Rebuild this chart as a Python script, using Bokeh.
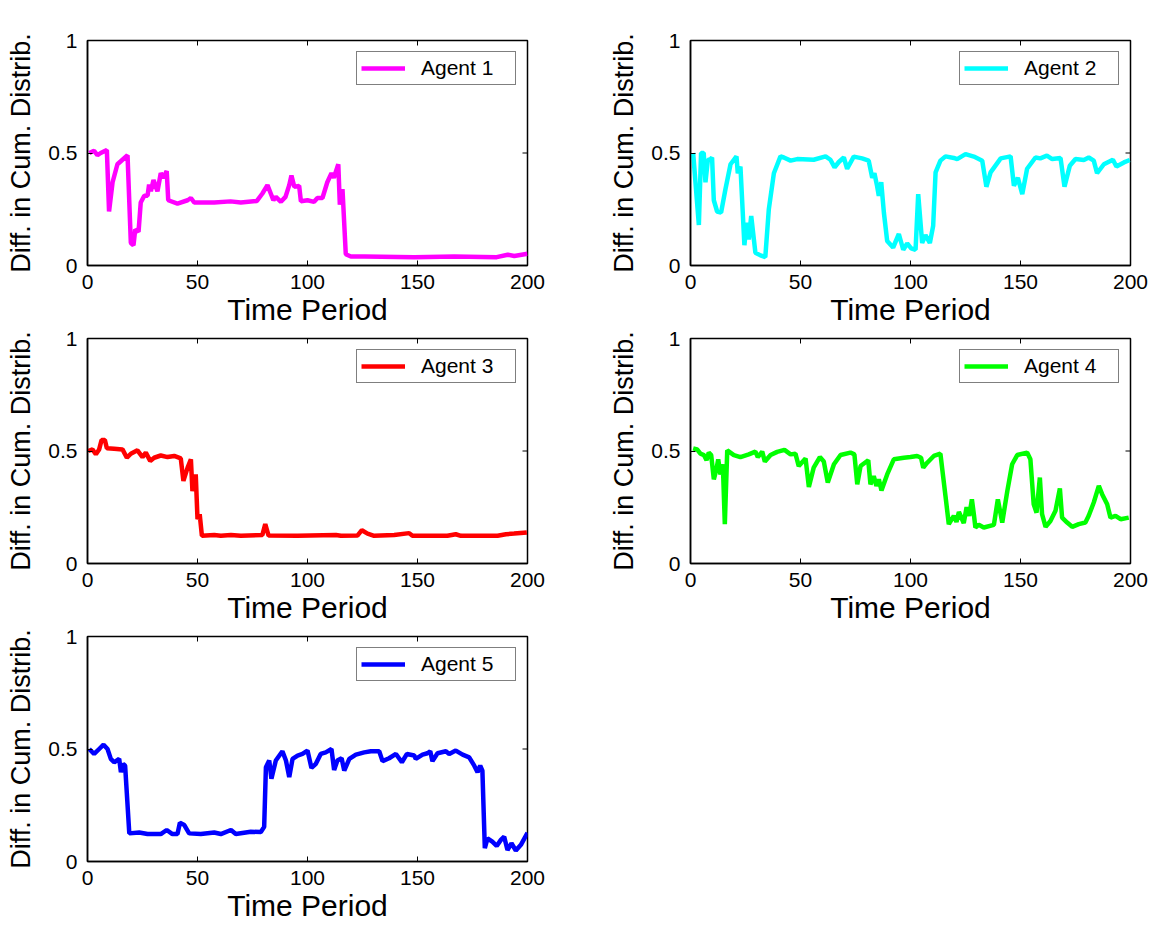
import math
from bokeh.plotting import figure
from bokeh.layouts import gridplot
from bokeh.models import Range1d, FixedTicker
from bokeh.embed import file_html
from bokeh.resources import INLINE

x_ticks = [0, 50, 100, 150, 200]
x_tick_labels = ["0", "50", "100", "150", "200"]
y_ticks = [0, 0.5, 1]
y_tick_labels = ["0", "0.5", "1"]
x_label = "Time Period"
y_label = "Diff. in Cum. Distrib."
agent_names = ["Agent 1", "Agent 2", "Agent 3", "Agent 4", "Agent 5"]
agent_colors = ["#ff00ff", "#00ffff", "#ff0000", "#00ff00", "#0000ff"]

agent1_t = [0.8, 3, 4.5, 6, 8.8, 9.8, 11.4, 13.6, 15.9, 18.2, 19.7, 20.9, 21.7, 23.2, 24.2, 25.8,
            27.3, 28, 28.8, 30, 31.8, 33.3, 34.5, 36, 36.7, 40.9, 45.5, 47, 48.5, 57.6, 65, 69.7,
            77, 79.5, 81.8, 83.3, 84.5, 85.6, 87.9, 90, 91.7, 92.7, 94, 96.2, 97, 100, 103, 104.5,
            106.8, 109, 110.9, 112, 114, 114.7, 115.9, 117.4, 119.7, 126, 148.5, 166.7, 186, 191,
            194, 200]
agent1_y = [0.50, 0.51, 0.49, 0.50, 0.513, 0.24, 0.37, 0.45, 0.47, 0.49, 0.10, 0.09, 0.16, 0.15,
            0.28, 0.31, 0.31, 0.36, 0.33, 0.38, 0.33, 0.41, 0.39, 0.42, 0.29, 0.275, 0.29, 0.30,
            0.28, 0.28, 0.285, 0.28, 0.287, 0.32, 0.357, 0.32, 0.29, 0.305, 0.283, 0.305, 0.357,
            0.40, 0.35, 0.354, 0.286, 0.29, 0.283, 0.30, 0.30, 0.37, 0.41, 0.39, 0.45, 0.27, 0.34,
            0.05, 0.04, 0.04, 0.037, 0.04, 0.037, 0.048, 0.042, 0.052]

agent2_t = [1.2, 3.8, 4.8, 6, 6.8, 7.9, 8.8, 9.8, 10.6, 12.1, 13.9, 15.9, 18.2, 20.9, 21.5, 22.7,
            24.5, 25.5, 26.5, 27.6, 29.5, 31.8, 34, 35.6, 37.9, 40.9, 42.4, 45.5, 48.5, 56, 61.4,
            63.6, 65.5, 67.4, 69.7, 71.2, 74.2, 78, 81, 82.6, 83.6, 84.8, 85.6, 86.7, 87.9, 89.4,
            92.1, 94.7, 96.7, 98.5, 100.3, 102.3, 103.5, 105.3, 106.8, 108.8, 110.3, 111.4, 113.6,
            115.9, 119.7, 121.2, 125, 128.8, 132.6, 134.5, 136.4, 141, 145.5, 147, 148.8, 150.8,
            153, 156.8, 159, 162, 164.4, 168.2, 170, 172.4, 175, 178.8, 181, 183.3, 184.8, 187.9,
            192, 193.6, 197, 199.7]
agent2_y = [0.50, 0.18, 0.50, 0.50, 0.37, 0.47, 0.47, 0.48, 0.29, 0.24, 0.235, 0.34, 0.45, 0.485,
            0.41, 0.44, 0.09, 0.19, 0.116, 0.22, 0.057, 0.045, 0.037, 0.25, 0.41, 0.485, 0.48,
            0.466, 0.473, 0.47, 0.485, 0.47, 0.436, 0.46, 0.48, 0.43, 0.484, 0.476, 0.466, 0.39,
            0.41, 0.354, 0.31, 0.37, 0.235, 0.109, 0.08, 0.14, 0.07, 0.098, 0.076, 0.07, 0.317,
            0.10, 0.135, 0.10, 0.176, 0.414, 0.466, 0.485, 0.478, 0.473, 0.495, 0.484, 0.466,
            0.35, 0.414, 0.476, 0.485, 0.354, 0.39, 0.317, 0.43, 0.48, 0.476, 0.488, 0.473, 0.478,
            0.35, 0.443, 0.473, 0.469, 0.48, 0.466, 0.41, 0.45, 0.47, 0.44, 0.458, 0.469]

agent3_t = [0.3, 2.3, 3.8, 5.3, 6.4, 7.9, 8.8, 12.1, 15.9, 17.9, 19.7, 22.7, 25, 26.5, 28.5, 30.3,
            33.3, 36.4, 39.4, 42.4, 43.6, 45.5, 47, 47.7, 49.2, 50, 51, 52, 57.6, 60.6, 65.2, 69.7,
            79.5, 80.8, 82.3, 95.5, 112.9, 115.2, 122.7, 124.7, 127.3, 130.3, 139.4, 146.2, 147.7,
            163.6, 167.4, 169.7, 186.4, 190.2, 193.9, 199.7]
agent3_y = [0.50, 0.507, 0.485, 0.507, 0.549, 0.549, 0.512, 0.51, 0.507, 0.47, 0.488, 0.503, 0.473,
            0.493, 0.456, 0.47, 0.48, 0.473, 0.478, 0.467, 0.367, 0.426, 0.463, 0.322, 0.396,
            0.197, 0.219, 0.123, 0.127, 0.123, 0.127, 0.123, 0.127, 0.175, 0.124, 0.123, 0.127,
            0.123, 0.124, 0.148, 0.133, 0.123, 0.127, 0.135, 0.123, 0.123, 0.13, 0.123, 0.123,
            0.13, 0.133, 0.138]

agent4_t = [1.2, 3, 4.5, 6.1, 7.3, 8.3, 9.4, 10.6, 11.8, 12.6, 13.6, 14.7, 15.6, 16.7, 19.7, 22.7,
            26.5, 29.5, 30.6, 32.6, 33.8, 36.4, 39.4, 42.7, 45.5, 47.7, 49.2, 52.3, 53.8, 56, 58.8,
            60.6, 62.4, 65.2, 68.2, 72.7, 74.5, 75.8, 77.3, 80.8, 81.8, 83.3, 84.5, 85.6, 86.8,
            89.4, 92.4, 97, 100, 103, 104.8, 105.8, 107.6, 110.6, 113.6, 115.9, 117.4, 119.7,
            120.9, 122, 124.2, 125.5, 126.7, 127.9, 128.8, 129.5, 131, 133.3, 137.9, 139.7, 141.7,
            144, 146.2, 148.5, 153, 154.5, 156, 157.3, 158.8, 159.8, 161.4, 163.6, 165.9, 167.9,
            168.9, 171.2, 173.5, 176.5, 179.5, 181, 183.3, 185.6, 187.1, 189.4, 190.9, 193.2,
            195.5, 199.2]
agent4_y = [0.512, 0.507, 0.488, 0.482, 0.459, 0.493, 0.482, 0.374, 0.419, 0.463, 0.396, 0.441,
            0.175, 0.503, 0.482, 0.473, 0.485, 0.497, 0.473, 0.497, 0.453, 0.482, 0.496, 0.505,
            0.485, 0.488, 0.433, 0.467, 0.34, 0.426, 0.473, 0.453, 0.36, 0.441, 0.482, 0.493,
            0.485, 0.352, 0.433, 0.459, 0.352, 0.389, 0.345, 0.374, 0.325, 0.396, 0.463, 0.47,
            0.473, 0.478, 0.47, 0.426, 0.448, 0.478, 0.488, 0.30, 0.175, 0.212, 0.185, 0.229, 0.18,
            0.25, 0.212, 0.285, 0.219, 0.16, 0.172, 0.16, 0.172, 0.285, 0.182, 0.322, 0.441, 0.482,
            0.493, 0.463, 0.263, 0.226, 0.382, 0.219, 0.163, 0.189, 0.234, 0.334, 0.204, 0.182,
            0.163, 0.175, 0.182, 0.212, 0.271, 0.345, 0.308, 0.263, 0.204, 0.212, 0.197, 0.204]

agent5_t = [0.8, 3, 5.3, 7.3, 9.1, 10.6, 12.1, 14.4, 15.2, 16.2, 17.1, 19, 23.5, 27.3, 33.3, 36,
            38.6, 40.9, 42, 44, 46.2, 51.5, 57.6, 60.6, 65.2, 67.4, 74.2, 78.8, 80.3, 81.1, 82.6,
            83.6, 85.6, 88.6, 90.2, 91.7, 93.2, 95.5, 97.7, 100, 101.8, 103.8, 106, 108.3, 110.9,
            112.1, 113.6, 115.5, 116.7, 119, 122, 125.8, 128.8, 132.6, 134.1, 137.1, 140.2, 142.9,
            145.2, 148.5, 149.2, 152.3, 154.5, 155.8, 156.8, 159.1, 162.9, 164.4, 167.4, 170.5,
            173.5, 175.8, 177.3, 178.5, 179.5, 180.6, 181.8, 184, 186, 187.9, 189.4, 190.9, 192.7,
            194.7, 197, 200]
agent5_y = [0.50, 0.478, 0.50, 0.519, 0.50, 0.456, 0.441, 0.456, 0.397, 0.434, 0.426, 0.125, 0.129,
            0.122, 0.122, 0.14, 0.122, 0.122, 0.172, 0.162, 0.125, 0.122, 0.129, 0.122, 0.14,
            0.122, 0.132, 0.131, 0.154, 0.419, 0.449, 0.368, 0.449, 0.49, 0.449, 0.375, 0.456,
            0.471, 0.478, 0.493, 0.416, 0.434, 0.478, 0.485, 0.50, 0.407, 0.449, 0.459, 0.404,
            0.456, 0.475, 0.485, 0.49, 0.49, 0.446, 0.459, 0.478, 0.441, 0.478, 0.471, 0.456,
            0.475, 0.481, 0.49, 0.446, 0.481, 0.49, 0.478, 0.493, 0.475, 0.463, 0.426, 0.397,
            0.426, 0.404, 0.059, 0.103, 0.088, 0.069, 0.096, 0.11, 0.051, 0.081, 0.049, 0.074,
            0.128]

series_t = [agent1_t, agent2_t, agent3_t, agent4_t, agent5_t]
series_y = [agent1_y, agent2_y, agent3_y, agent4_y, agent5_y]

FONT = "Liberation Sans"
X_MIN, X_MAX = x_ticks[0], x_ticks[-1]
Y_MIN, Y_MAX = y_ticks[0], y_ticks[-1]


def style_axis(ax):
    ax.axis_line_color = "black"
    ax.axis_line_width = 1.5
    ax.major_tick_in = 5
    ax.major_tick_out = 0
    ax.major_tick_line_color = "black"
    ax.major_tick_line_width = 1
    ax.minor_tick_in = 0
    ax.minor_tick_out = 0
    ax.major_label_text_font = FONT
    ax.major_label_text_color = "black"
    ax.major_label_text_font_size = "21px"


def make_panel(i, col, row):
    p = figure(
        frame_width=440, frame_height=225,
        x_range=Range1d(X_MIN, X_MAX), y_range=Range1d(Y_MIN, Y_MAX),
        output_backend="svg", toolbar_location=None,
        min_border_left=87,
        min_border_right=76 if col == 0 else 32,
        min_border_top=40 if row == 0 else 10,
        min_border_bottom=63,
        background_fill_color="white", border_fill_color="white",
    )
    p.grid.visible = False
    p.outline_line_color = "black"
    p.outline_line_width = 1.5

    # tick marks on the top and right edges of the box (clipped to the frame)
    p.scatter(x_ticks, [Y_MAX] * len(x_ticks), marker="dash", size=10,
              angle=math.pi / 2, line_color="black", line_width=1)
    p.scatter([X_MAX] * len(y_ticks), y_ticks, marker="dash", size=10,
              line_color="black", line_width=1)

    p.line(series_t[i], series_y[i], line_color=agent_colors[i], line_width=4.5,
           legend_label=agent_names[i])

    xa = p.xaxis[0]
    ya = p.yaxis[0]
    xa.ticker = FixedTicker(ticks=x_ticks)
    ya.ticker = FixedTicker(ticks=y_ticks)
    xa.major_label_overrides = dict(zip(x_ticks, x_tick_labels))
    ya.major_label_overrides = dict(zip(y_ticks, y_tick_labels))
    style_axis(xa)
    style_axis(ya)
    xa.major_label_standoff = 9
    ya.major_label_standoff = 10
    xa.axis_label = x_label
    ya.axis_label = y_label
    for ax, size in ((xa, "30px"), (ya, "27px")):
        ax.axis_label_text_font = FONT
        ax.axis_label_text_font_size = size
        ax.axis_label_text_font_style = "normal"
        ax.axis_label_text_color = "black"
    xa.axis_label_standoff = 1
    ya.axis_label_standoff = 9

    lg = p.legend[0]
    lg.location = "top_right"
    lg.margin = 11
    lg.padding = 4
    lg.spacing = 0
    lg.label_text_font = FONT
    lg.label_text_font_size = "21px"
    lg.label_text_color = "black"
    lg.label_standoff = 16
    lg.label_width = 90
    lg.glyph_width = 44
    lg.label_height = 14
    lg.glyph_height = 14
    lg.border_line_color = "black"
    lg.border_line_width = 1.5
    lg.background_fill_alpha = 1.0
    return p


panels = [make_panel(i, i % 2, i // 2) for i in range(5)]
grid = gridplot([[panels[0], panels[1]], [panels[2], panels[3]], [panels[4], None]],
                toolbar_location=None)

open("out.html", "w").write(file_html(grid, INLINE))
